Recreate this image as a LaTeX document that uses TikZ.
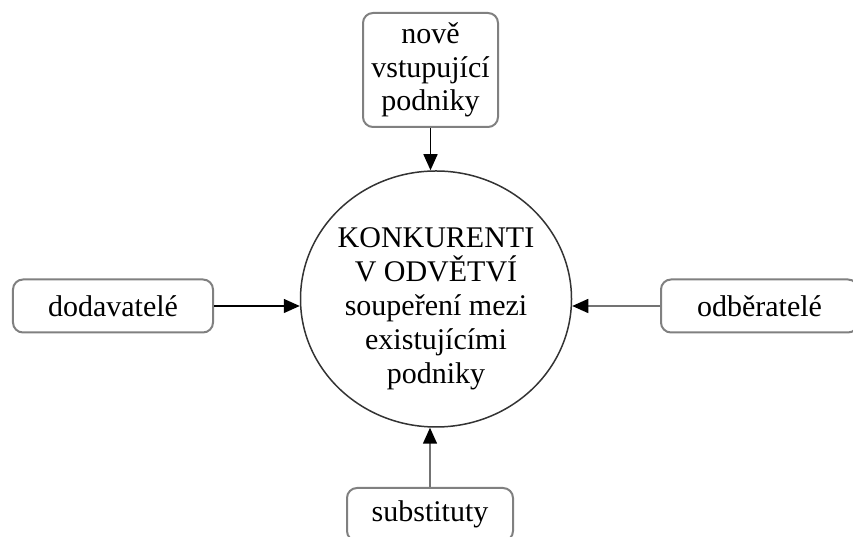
\documentclass[tikz,border=0pt]{standalone}
\usepackage{fontspec}
\setmainfont{Liberation Serif}
\usetikzlibrary{shapes.geometric,arrows.meta}

\begin{document}
\begin{tikzpicture}[x=0.4pt,y=-0.4pt,
	box/.style={draw=black!50,line width=0.8pt,rounded corners=4pt,fill=white,inner sep=0pt,align=center,font=\fontsize{12}{13.4}\selectfont},
	kruh/.style={draw=black!80,line width=0.6pt,ellipse,inner sep=0pt,minimum width=108.4pt,minimum height=102.4pt},
	popis/.style={align=center,font=\fontsize{12}{13.6}\selectfont},
	sipka/.style={line width=0.6pt,-{Triangle[length=6.4pt,width=5.6pt]}},
	sipkaseda/.style={sipka,draw=black!55,-{Triangle[length=6.4pt,width=5.6pt,color=black]}}]
	\useasboundingbox (0,0) rectangle (853,537);
	\clip (0,0) rectangle (853,537);
	
	\node[kruh] (konk) at (436,299) {};
	\node[popis] (konktext) at (436,309) {KONKURENTI\\V ODVĚTVÍ\\soupeření mezi\\existujícími\\podniky};
	
	\node[box,minimum width=54pt,minimum height=45.6pt] (nove) at (430.5,70) {nově\\vstupující\\podniky};
	\node[box,minimum width=80pt,minimum height=21.2pt] (dod) at (113,306) {dodavatelé};
	\node[box,minimum width=78.8pt,minimum height=21.2pt] (odb) at (759.5,306) {odběratelé};
	\node[box,minimum width=66.4pt,minimum height=21.2pt] (sub) at (430,514.5) {substituty};
	
	\draw[sipka] (nove.south) -- (nove.south |- konk.north);
	\draw[sipka] (dod.east) -- (dod.east -| konk.west);
	\draw[sipkaseda] (odb.west) -- (odb.west -| konk.east);
	\draw[sipkaseda] (sub.north) -- (sub.north |- konk.south);
\end{tikzpicture}
\end{document}
